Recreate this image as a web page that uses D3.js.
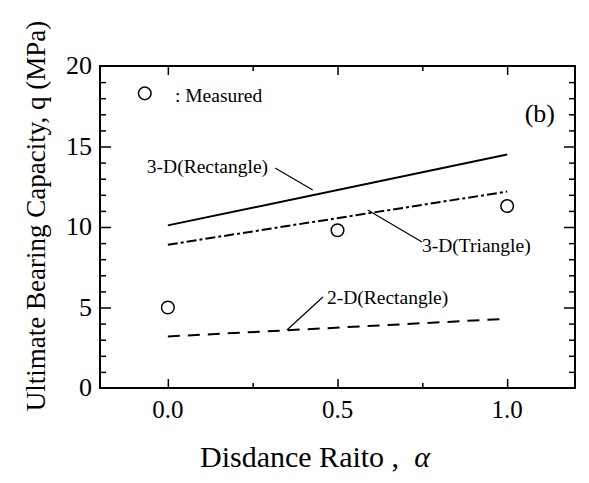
<!DOCTYPE html>
<html>
<head>
<meta charset="utf-8">
<script src="https://cdn.jsdelivr.net/npm/d3@7"></script>
<style>
  body { margin: 0; background: #fff; }
  text { font-family: "Liberation Serif", "DejaVu Serif", serif; fill: #000; }
</style>
</head>
<body>
<svg id="chart" width="589" height="483"></svg>
<script>
// data
const alphas = [0.0, 1.0]
const rect3D = [10.1, 14.5]
const tri3D = [8.9, 12.2]
const rect2D = [3.2, 4.3]
const measuredAlpha = [0.0, 0.5, 1.0]
const measuredQ = [5.0, 9.8, 11.3]
const xTickLabels = ["0.0", "0.5", "1.0"]
const yTickLabels = ["0", "5", "10", "15", "20"]

const svg = d3.select("#chart")
const margin = { left: 100, right: 14, top: 66, bottom: 95 }
const W = 589, H = 483

const x = d3.scaleLinear().domain([-0.2, 1.2]).range([margin.left, W - margin.right])
const y = d3.scaleLinear().domain([0, 20]).range([H - margin.bottom, margin.top])

// frame
svg.append("rect")
    .attr("x", x.range()[0]).attr("y", y.range()[1])
    .attr("width", x.range()[1] - x.range()[0])
    .attr("height", y.range()[0] - y.range()[1])
    .attr("fill", "none").attr("stroke", "#000").attr("stroke-width", 2)

// ticks (inward)
const xMinor = [-0.25, 0.25, 0.75, 1.25].filter(d => d > -0.2 && d < 1.2)
const xMajor = [0, 0.5, 1]
const yMinor = d3.range(1, 20, 1).filter(d => d % 5)
const yMajor = [5, 10, 15]

function addAxis(axis, transform, ticks, size) {
    const g = svg.append("g").attr("transform", transform)
    g.call(axis.tickValues(ticks).tickSize(size).tickFormat(""))
    g.select(".domain").remove()
    g.selectAll("line").attr("stroke", "#000").attr("stroke-width", 1.5)
}

addAxis(d3.axisTop(x), `translate(0,${y(0)})`, xMinor, 5)
addAxis(d3.axisTop(x), `translate(0,${y(0)})`, xMajor, 9)
addAxis(d3.axisBottom(x), `translate(0,${y(20)})`, xMinor, 5)
addAxis(d3.axisBottom(x), `translate(0,${y(20)})`, xMajor, 9)
addAxis(d3.axisRight(y), `translate(${x(-0.2)},0)`, yMinor, 6)
addAxis(d3.axisRight(y), `translate(${x(-0.2)},0)`, yMajor, 11)
addAxis(d3.axisLeft(y), `translate(${x(1.2)},0)`, yMinor, 6)
addAxis(d3.axisLeft(y), `translate(${x(1.2)},0)`, yMajor, 11)

// tick labels
svg.selectAll("text.xt").data(xTickLabels).join("text")
    .attr("class", "xt")
    .attr("x", d => x(+d)).attr("y", y(0) + 30)
    .attr("text-anchor", "middle").attr("font-size", 25)
    .text(d => d)

svg.selectAll("text.yt").data(yTickLabels).join("text")
    .attr("class", "yt")
    .attr("x", x(-0.2) - 8).attr("y", d => y(+d) + 8)
    .attr("text-anchor", "end").attr("font-size", 26)
    .text(d => d)

// axis titles
svg.append("text")
    .attr("x", 200).attr("y", 467)
    .attr("font-size", 30)
    .html('Disdance Raito ,&#160;&#160;<tspan font-style="italic">α</tspan>')

svg.append("text")
    .attr("transform", `translate(45,216) rotate(-90)`)
    .attr("text-anchor", "middle").attr("font-size", 27)
    .text("Ultimate Bearing Capacity, q (MPa)")

// lines
const line = d3.line().x(d => x(d[0])).y(d => y(d[1]))
const series = [
    { vals: rect3D, dash: null },
    { vals: tri3D, dash: "10,3,3,3" },
    { vals: rect2D, dash: "12,8" }
]
series.forEach(s => {
    svg.append("path")
        .datum(d3.zip(alphas, s.vals))
        .attr("d", line)
        .attr("fill", "none").attr("stroke", "#000").attr("stroke-width", 2)
        .attr("stroke-dasharray", s.dash)
})

// measured points
svg.selectAll("circle.m").data(d3.zip(measuredAlpha, measuredQ)).join("circle")
    .attr("class", "m")
    .attr("cx", d => x(d[0])).attr("cy", d => y(d[1]))
    .attr("r", 6.3).attr("fill", "none").attr("stroke", "#000").attr("stroke-width", 1.5)

// legend
svg.append("circle")
    .attr("cx", x(-0.068)).attr("cy", y(18.3))
    .attr("r", 6.3).attr("fill", "none").attr("stroke", "#000").attr("stroke-width", 1.5)
svg.append("text")
    .attr("x", x(0.021)).attr("y", y(17.76))
    .attr("font-size", 19.5).text(": Measured")

svg.append("text")
    .attr("x", x(1.141)).attr("y", y(16.52))
    .attr("text-anchor", "end").attr("font-size", 26).text("(b)")

// annotations with leader lines
const notes = [
    { label: "3-D(Rectangle)", tx: -0.062, ty: 13.35, from: [0.316, 13.66], to: [0.427, 12.3] },
    { label: "3-D(Triangle)", tx: 0.749, ty: 8.45, from: [0.589, 11.06], to: [0.749, 9.07] },
    { label: "2-D(Rectangle)", tx: 0.469, ty: 5.22, from: [0.457, 5.65], to: [0.351, 3.6] }
]
notes.forEach(n => {
    svg.append("text")
        .attr("x", x(n.tx)).attr("y", y(n.ty))
        .attr("font-size", 19.5).text(n.label)
    svg.append("line")
        .attr("x1", x(n.from[0])).attr("y1", y(n.from[1]))
        .attr("x2", x(n.to[0])).attr("y2", y(n.to[1]))
        .attr("stroke", "#000").attr("stroke-width", 1.2)
})
</script>
</body>
</html>
